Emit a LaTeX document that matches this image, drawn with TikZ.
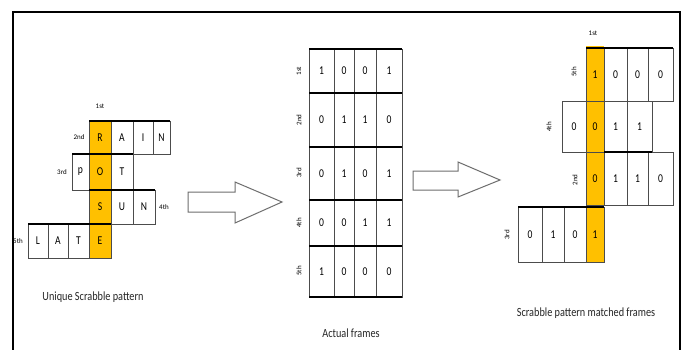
\documentclass[tikz,border=0pt]{standalone}
\usepackage{fontspec}
\setmainfont{Carlito}
\definecolor{gold}{RGB}{255,192,0}
\definecolor{arrowgray}{RGB}{110,110,110}
\tikzset{
 cell/.style={draw=black!70, line width=0.7pt, rectangle, inner sep=0pt, outer sep=0pt, font=\fontsize{12}{13}\selectfont},
 gold cell/.style={cell, fill=gold},
 rowlab/.style={font=\fontsize{7}{8}\selectfont, inner sep=0pt},
 caption/.style={font=\fontsize{12.5}{14}\selectfont, inner sep=0pt, text=black!85},
 thickline/.style={line width=1.4pt, black},
 bigarrow/.style={draw=arrowgray, line width=1pt, fill=white, line join=miter},
}
\newcommand\mkcell[7][]{\node[cell,#1,minimum width={#4-#3},minimum height={#6-#5}] (#2) at ({(#3+#4)/2},{(#5+#6)/2}) {\scalebox{0.8}[1]{#7}};}
\begin{document}
\begin{tikzpicture}[x=1pt,y=-1pt]
\useasboundingbox (0,0) rectangle (685,349);
\fill[white] (0,0) rectangle (685,349);
\draw[line width=1.3pt] (13,355) -- (13,12) -- (680,12) -- (680,355);

% ---------- left pattern ----------
\mkcell[gold cell]{L1a}{89}{111}{121}{154}{R}
\mkcell{L1b}{111}{133}{121}{154}{A}
\mkcell{L1c}{133}{153}{121}{154}{I}
\mkcell{L1d}{153}{170}{121}{154}{N}
\mkcell{L2a}{72}{89}{154}{190}{p}
\mkcell[gold cell]{L2b}{89}{111}{154}{190}{O}
\mkcell{L2c}{111}{133}{154}{190}{T}
\mkcell[gold cell]{L3a}{89}{111}{190}{224}{S}
\mkcell{L3b}{111}{133}{190}{224}{U}
\mkcell{L3c}{133}{155}{190}{224}{N}
\mkcell{L4a}{28}{48}{224}{258}{L}
\mkcell{L4b}{48}{68}{224}{258}{A}
\mkcell{L4c}{68}{89}{224}{258}{T}
\mkcell[gold cell]{L4d}{89}{111}{224}{258}{E}
\draw[thickline] (L1a.north west) -- (L1d.north east);
\draw[thickline] (L2a.north west) -- (L2c.north east);
\draw[thickline] (L3a.north west) -- (L3c.north east);
\draw[thickline] (L4a.north west) -- (L4d.north east);
\node[rowlab] (Ll1) at (100,106) {1st};
\node[rowlab] (Ll2) at (79,137) {2nd};
\node[rowlab] (Ll3) at (62,172) {3rd};
\node[rowlab] (Ll4) at (164,207) {4th};
\node[rowlab] (Ll5) at (18,241) {5th};
\node[caption] (capL) at (93,297) {\scalebox{0.82}[1]{Unique Scrabble pattern}};

% ---------- arrows ----------
\draw[bigarrow] (188,192) -- (235,192) -- (235,182) -- (282,202) -- (235,223) -- (235,212) -- (188,212) -- cycle;
\draw[bigarrow] (413,171) -- (458,171) -- (458,162) -- (500,180) -- (458,197) -- (458,190) -- (413,190) -- cycle;

% ---------- middle table ----------
\mkcell{M11}{309}{334}{49}{93}{1}
\mkcell{M12}{334}{354}{49}{93}{0}
\mkcell{M13}{354}{376}{49}{93}{0}
\mkcell{M14}{376}{402}{49}{93}{1}
\mkcell{M21}{309}{334}{93}{147}{0}
\mkcell{M22}{334}{354}{93}{147}{1}
\mkcell{M23}{354}{376}{93}{147}{1}
\mkcell{M24}{376}{402}{93}{147}{0}
\mkcell{M31}{309}{334}{147}{200}{0}
\mkcell{M32}{334}{354}{147}{200}{1}
\mkcell{M33}{354}{376}{147}{200}{0}
\mkcell{M34}{376}{402}{147}{200}{1}
\mkcell{M41}{309}{334}{200}{246}{0}
\mkcell{M42}{334}{354}{200}{246}{0}
\mkcell{M43}{354}{376}{200}{246}{1}
\mkcell{M44}{376}{402}{200}{246}{1}
\mkcell{M51}{309}{334}{246}{297}{1}
\mkcell{M52}{334}{354}{246}{297}{0}
\mkcell{M53}{354}{376}{246}{297}{0}
\mkcell{M54}{376}{402}{246}{297}{0}
\draw[thickline] (M11.north west) -- (M14.north east);
\draw[thickline] (M21.north west) -- (M24.north east);
\draw[thickline] (M31.north west) -- (M34.north east);
\draw[thickline] (M41.north west) -- (M44.north east);
\draw[thickline] (M51.north west) -- (M54.north east);
\draw[thickline] (M51.south west) -- (M54.south east);
\node[rowlab,rotate=90] (Ml1) at (299,71) {1st};
\node[rowlab,rotate=90] (Ml2) at (299,120) {2nd};
\node[rowlab,rotate=90] (Ml3) at (299,173) {3rd};
\node[rowlab,rotate=90] (Ml4) at (299,223) {4th};
\node[rowlab,rotate=90] (Ml5) at (299,271) {5th};
\node[caption] (capM) at (351,333) {\scalebox{0.82}[1]{Actual frames}};

% ---------- right pattern ----------
\fill[gold] (586,46) rectangle (604,263);
\mkcell[gold cell]{R1a}{586}{604}{48}{101}{1}
\mkcell{R1b}{604}{627}{48}{101}{0}
\mkcell{R1c}{627}{648}{48}{101}{0}
\mkcell{R1d}{648}{673}{48}{101}{0}
\mkcell{R2a}{562}{586}{101}{152}{0}
\mkcell[gold cell]{R2b}{586}{604}{101}{152}{0}
\mkcell{R2c}{604}{627}{101}{152}{1}
\mkcell{R2d}{627}{652}{101}{152}{1}
\mkcell[gold cell]{R3a}{586}{604}{152}{205}{0}
\mkcell{R3b}{604}{627}{152}{205}{1}
\mkcell{R3c}{627}{648}{152}{205}{1}
\mkcell{R3d}{648}{673}{152}{205}{0}
\mkcell{R4a}{518}{542}{207}{262}{0}
\mkcell{R4b}{542}{564}{207}{262}{1}
\mkcell{R4c}{564}{586}{207}{262}{0}
\mkcell[gold cell]{R4d}{586}{604}{207}{262}{1}
\draw[thickline] (R1a.north west) -- (R1d.north east);
\draw[thickline] (R2b.south east) -- (R2d.south east);
\draw[thickline] (R4a.north west) -- (R4d.north east);
\node[rowlab] (Rl1) at (593,33) {1st};
\node[rowlab,rotate=90] (Rl5) at (574,72) {5th};
\node[rowlab,rotate=90] (Rl4) at (549,127) {4th};
\node[rowlab,rotate=90] (Rl2) at (575,180) {2nd};
\node[rowlab,rotate=90] (Rl3) at (507,235) {3rd};
\node[caption] (capR) at (586,313) {\scalebox{0.82}[1]{Scrabble pattern matched frames}};
\end{tikzpicture}
\end{document}
